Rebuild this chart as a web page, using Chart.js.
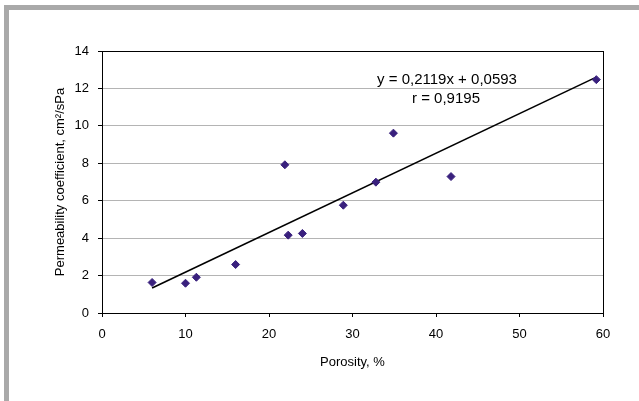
<!DOCTYPE html>
<html>
<head>
<meta charset="utf-8">
<script src="https://cdn.jsdelivr.net/npm/chart.js@4"></script>
<style>
  body { margin: 0; background: #fff; }
  #frame {
    position: absolute; left: 4px; top: 5px; width: 640px; height: 391px;
    border-left: 5px solid #a9a9a9; border-top: 5px solid #a9a9a9; border-bottom: 5px solid #a9a9a9;
  }
  #myChart { position: absolute; left: 0; top: 0; }
</style>
</head>
<body>
<div id="frame"></div>
<canvas id="myChart" width="639" height="401"></canvas>
<script>
/* global Chart */
// porosity (%) and permeability coefficient
let porosity = [6.0, 10.0, 11.3, 16.0, 21.9, 22.3, 24.0, 28.9, 32.8, 34.9, 41.8, 59.2];
let permeability = [1.63, 1.59, 1.91, 2.59, 7.92, 4.16, 4.25, 5.76, 6.99, 9.61, 7.29, 12.47];

// linear trend as printed on the chart
let slope = 0.2119;
let intercept = 0.0593;
let equationLines = ["y = 0,2119x + 0,0593", "r = 0,9195"];

let xTicks = [0, 10, 20, 30, 40, 50, 60];
let yTicks = [0, 2, 4, 6, 8, 10, 12, 14];

let xMin = Math.min(...porosity);
let xMax = Math.max(...porosity);
let trend = [
  { x: xMin, y: slope * xMin + intercept },
  { x: xMax, y: slope * xMax + intercept },
];

let points = porosity.map((p, i) => ({ x: p, y: permeability[i] }));

const fontFamily = "'Liberation Sans', Arial, sans-serif";

// border round the plot area + the equation text
const plotFrame = {
  id: "plotFrame",
  afterDraw(chart) {
    const { ctx, chartArea } = chart;
    ctx.save();
    ctx.strokeStyle = "#000";
    ctx.lineWidth = 1;
    ctx.strokeRect(Math.round(chartArea.left) + 0.5, Math.round(chartArea.top) + 0.5,
      Math.round(chartArea.right - chartArea.left), Math.round(chartArea.bottom - chartArea.top));
    ctx.fillStyle = "#000";
    ctx.font = "15px " + fontFamily;
    ctx.textAlign = "center";
    ctx.textBaseline = "middle";
    ctx.fillText(equationLines[0], 447, 80);
    ctx.fillText(equationLines[1], 446, 99);
    ctx.restore();
  },
};

var ctx = document.getElementById("myChart").getContext("2d");
var myChart = new Chart(ctx, {
  type: "scatter",
  data: {
    datasets: [
      {
        label: "Trend",
        type: "line",
        data: trend,
        borderColor: "#000",
        borderWidth: 1.6,
        pointRadius: 0,
        fill: false,
        order: 2,
      },
      {
        label: "Data",
        data: points,
        pointStyle: "rectRot",
        pointRadius: 4,
        backgroundColor: "#39207d",
        borderColor: "#39207d",
        borderWidth: 1,
        order: 1,
      },
    ],
  },
  options: {
    responsive: false,
    animation: false,
    devicePixelRatio: 1,
    layout: { padding: { top: 51, right: 36, left: 0, bottom: 0 } },
    plugins: {
      legend: { display: false },
      tooltip: { enabled: false },
    },
    scales: {
      x: {
        type: "linear",
        min: 0,
        max: 60,
        afterBuildTicks: (scale) => { scale.ticks = xTicks.map((v) => ({ value: v })); },
        afterFit: (scale) => { scale.height = 88; },
        border: { color: "#000", width: 1 },
        grid: { drawOnChartArea: false, drawTicks: true, tickLength: 4, tickColor: "#000" },
        ticks: { color: "#000", padding: 10, maxRotation: 0, font: { family: fontFamily, size: 13 } },
        title: {
          display: true,
          text: "Porosity, %",
          color: "#000",
          font: { family: fontFamily, size: 13 },
          padding: { top: 0, bottom: 31 },
        },
      },
      y: {
        type: "linear",
        min: 0,
        max: 14,
        afterBuildTicks: (scale) => { scale.ticks = yTicks.map((v) => ({ value: v })); },
        afterFit: (scale) => { scale.width = 102; },
        border: { color: "#000", width: 1 },
        grid: { color: "#b4b4b4", lineWidth: 1, tickLength: 4, tickColor: "#000" },
        ticks: { color: "#000", padding: 9, font: { family: fontFamily, size: 13 } },
        title: {
          display: true,
          text: "Permeability coefficient, cm²/sPa",
          color: "#000",
          font: { family: fontFamily, size: 13 },
          padding: { top: 53, bottom: 0 },
        },
      },
    },
  },
  plugins: [plotFrame],
});
</script>
</body>
</html>
